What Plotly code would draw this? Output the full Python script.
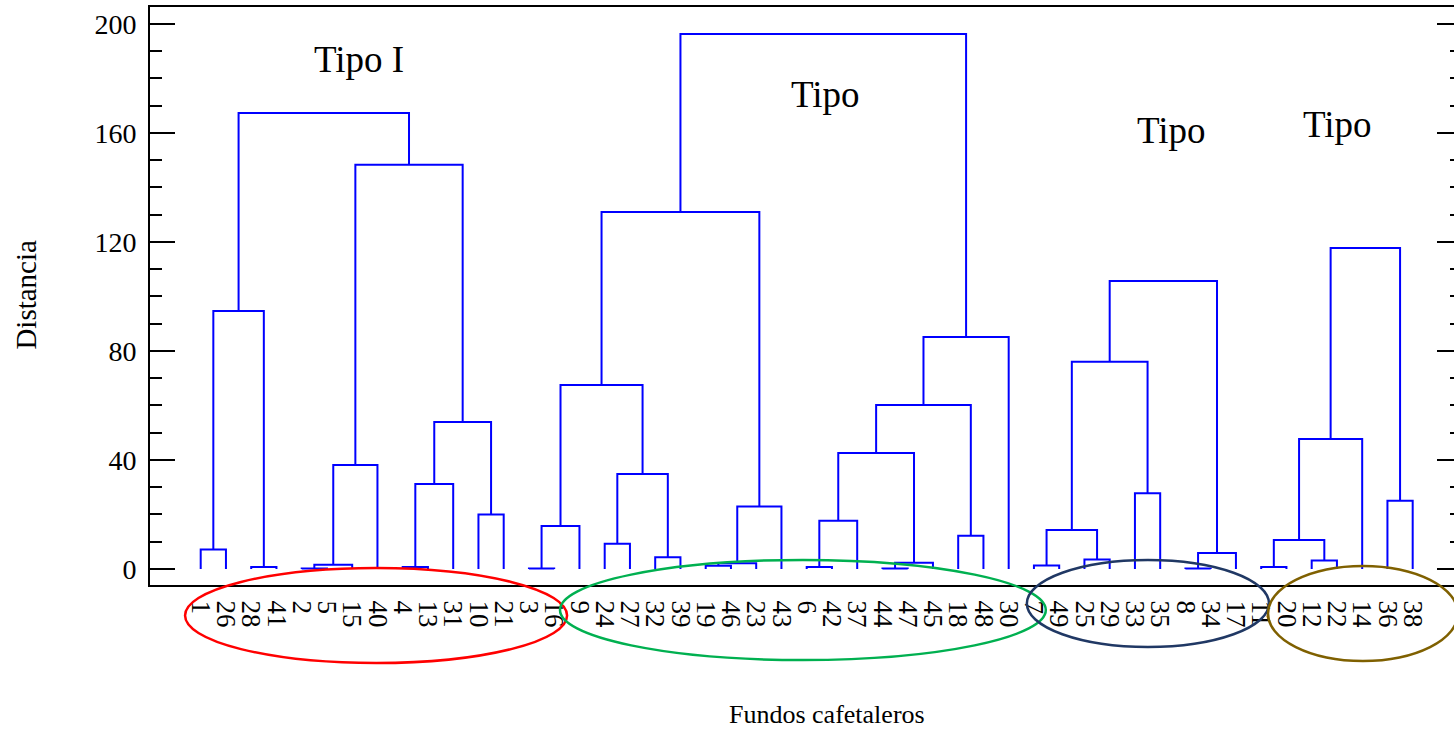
import plotly.graph_objects as go

# Leaf order along the x axis (fundos cafetaleros)
leaf_labels = ["1", "26", "28", "41", "2", "5", "15", "40", "4", "13", "31", "10", "21",
               "3", "16", "9", "24", "27", "32", "39", "19", "46", "23", "43", "6", "42",
               "37", "44", "47", "45", "18", "48", "30", "7", "49", "25", "29", "33", "35",
               "8", "34", "17", "11", "20", "12", "22", "14", "36", "38"]

# Agglomeration steps: a string is a leaf, an int is an earlier step
merge_a = ["1", "28", 0, "2", 3, 4, "4", 6, "10", 7, 5, 2,
           "3", 12, "24", "32", 14, 13, "19", 18, 19, 17,
           "6", 22, "44", 24, 23, "18", 26, 28, 21,
           "7", "25", 31, "33", 33, "8", 36, 35,
           "11", "12", 39, 41, "36", 42]
merge_b = ["26", "41", 1, "5", "15", "40", "13", "31", "21", 8, 9, 10,
           "16", "9", "27", "39", 15, 16, "46", "23", "43", 20,
           "42", "37", "47", "45", 25, "48", 27, "30", 29,
           "49", "29", 32, "35", 34, "34", "17", 37,
           "20", "22", 40, "14", "38", 43]
merge_h = [7.2, 0.7, 94.7, 0.2, 1.6, 38.2, 0.7, 31.2, 20.0, 53.9, 148.3, 167.3,
           0.2, 15.8, 9.3, 4.3, 34.9, 67.5, 1.2, 2.1, 22.9, 131.0,
           0.7, 17.7, 0.2, 2.3, 42.6, 12.2, 60.2, 85.1, 196.3,
           1.3, 3.5, 14.3, 27.8, 76.0, 0.2, 5.9, 105.7,
           0.7, 3.1, 10.6, 47.7, 25.0, 117.8]

# Group annotations
type_text = ["Tipo I", "Tipo", "Tipo", "Tipo"]
type_x = [6.27, 24.75, 38.46, 45.03]
type_y = [187.1, 174.1, 160.8, 163.2]

y_ticks = [0, 40, 80, 120, 160, 200]

SERIF = "Liberation Serif"
BLUE = "#0000FF"

leaf_pos = {lab: i for i, lab in enumerate(leaf_labels)}
node_x, node_h = [], []


def locate(node):
    if isinstance(node, str):
        return leaf_pos[node], 0.0
    return node_x[node], node_h[node]


xs, ys = [], []
for a, b, h in zip(merge_a, merge_b, merge_h):
    xa, ha = locate(a)
    xb, hb = locate(b)
    xs += [xa, xa, xb, xb, None]
    ys += [ha, h, h, hb, None]
    node_x.append((xa + xb) / 2)
    node_h.append(h)

fig = go.Figure()
fig.add_trace(go.Scatter(x=xs, y=ys, mode="lines",
                         line=dict(color=BLUE, width=2),
                         hoverinfo="skip", showlegend=False))
# carrier for the right-hand tick axis
fig.add_trace(go.Scatter(x=[None], y=[None], yaxis="y2", showlegend=False,
                         hoverinfo="skip"))

# ellipses grouping the leaves of each type
ellipses = [
    dict(x0=-0.62, x1=14.51, y0=-0.135, y1=0.0294, color="#FF0000"),
    dict(x0=14.23, x1=33.47, y0=-0.1298, y1=0.0433, color="#00B050"),
    dict(x0=32.72, x1=42.31, y0=-0.1073, y1=0.0433, color="#203864"),
    dict(x0=42.27, x1=49.79, y0=-0.1315, y1=0.0329, color="#7F6000"),
]
for e in ellipses:
    fig.add_shape(type="circle", xref="x", yref="paper",
                  x0=e["x0"], x1=e["x1"], y0=e["y0"], y1=e["y1"],
                  line=dict(color=e["color"], width=2.5), layer="above")

for t, x, y in zip(type_text, type_x, type_y):
    fig.add_annotation(text=t, x=x, y=y, xref="x", yref="y", showarrow=False,
                       font=dict(family=SERIF, size=37, color="black"),
                       xanchor="center", yanchor="middle")

fig.add_annotation(text="Fundos cafetaleros", x=0.5188, y=-0.2232,
                   xref="paper", yref="paper", showarrow=False,
                   font=dict(family=SERIF, size=26, color="black"),
                   xanchor="center", yanchor="middle")
fig.add_annotation(text="Distancia", x=-0.095, y=0.5026, textangle=-90,
                   xref="paper", yref="paper", showarrow=False,
                   font=dict(family=SERIF, size=29, color="black"),
                   xanchor="center", yanchor="middle")

fig.update_layout(
    width=1454, height=729,
    margin=dict(l=150, r=0, t=7, b=144),
    paper_bgcolor="white", plot_bgcolor="white",
    font=dict(family=SERIF, color="black"),
    xaxis=dict(range=[-2.008, 49.636], tickmode="array",
               tickvals=list(range(len(leaf_labels))), ticktext=leaf_labels,
               tickangle=90, ticks="", showline=True, linewidth=2,
               linecolor="black", mirror=True, showgrid=False, zeroline=False,
               tickfont=dict(family=SERIF, size=27, color="black"),
               ticklabelstandoff=8),
    yaxis=dict(range=[-5.87, 206.2], tickmode="array", tickvals=y_ticks,
               ticks="inside", ticklen=25, tickwidth=2, tickcolor="black",
               minor=dict(dtick=10, tick0=0, ticks="inside", ticklen=12,
                          tickwidth=2, tickcolor="black"),
               showline=True, linewidth=2, linecolor="black",
               showgrid=False, zeroline=False,
               tickfont=dict(family=SERIF, size=28, color="black"),
               ticklabelstandoff=6),
    yaxis2=dict(range=[-5.87, 206.2], overlaying="y", side="right",
                anchor="x", tickmode="array", tickvals=y_ticks,
                ticks="inside", ticklen=17, tickwidth=2, tickcolor="black",
                minor=dict(dtick=10, tick0=0, ticks="inside", ticklen=4,
                           tickwidth=2, tickcolor="black"),
                showticklabels=False, showline=False, showgrid=False,
                zeroline=False),
)

fig.write_html("out.html")
